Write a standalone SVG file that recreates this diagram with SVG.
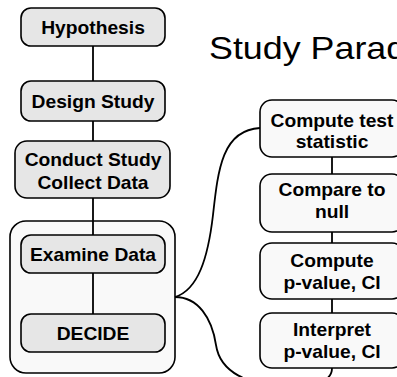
<svg xmlns="http://www.w3.org/2000/svg" width="397" height="377" viewBox="0 0 397 377">
<style>
.box{fill:#e6e6e6;stroke:#000;stroke-width:1.6}
.rbox{fill:#f9f9f9;stroke:#000;stroke-width:1.6}
.cont{fill:#f9f9f9;stroke:#000;stroke-width:1.6}
.lbl{font-family:"Liberation Sans",Arial,sans-serif;font-weight:bold;font-size:17.5px;text-anchor:middle;fill:#000}
.title{font-family:"Liberation Sans",Arial,sans-serif;font-size:32px;fill:#000}
.conn{fill:none;stroke:#000;stroke-width:1.8}
</style>
<rect width="397" height="377" fill="#fff"/>
<text class="title" transform="matrix(1.12 0 0 1 209 58.5)">Study Paradigm</text>
<g id="container">
<rect class="cont" x="10" y="221" width="165" height="152" rx="16"/>
</g>
<g id="connectors">
<line class="conn" x1="93" y1="46" x2="93" y2="81"/>
<line class="conn" x1="93" y1="121" x2="93" y2="141"/>
<line class="conn" x1="93" y1="198" x2="93" y2="235"/>
<line class="conn" x1="93" y1="273" x2="93" y2="314"/>
<line class="conn" x1="332" y1="157" x2="332" y2="174"/>
<line class="conn" x1="332" y1="232" x2="332" y2="243"/>
<line class="conn" x1="332" y1="299" x2="332" y2="313"/>
<path class="conn" d="M175,297 C198,290 208,258 213,215 C218,170 222,130 260,128"/>
<path class="conn" d="M175,297 C198,297 212,318 216,345 C220,372 248,386 288,386 C320,386 332,380 332,368"/>
</g>
<g id="hypothesis">
<rect class="box" x="21" y="8" width="144" height="38" rx="10"/>
<text class="lbl" transform="matrix(1.1 0 0 1 93 34)">Hypothesis</text>
</g>
<g id="design">
<rect class="box" x="21" y="81" width="144" height="40" rx="10"/>
<text class="lbl" transform="matrix(1.1 0 0 1 93 107.5)">Design Study</text>
</g>
<g id="conduct">
<rect class="box" x="15" y="141" width="155" height="57" rx="12"/>
<text class="lbl" transform="matrix(1.1 0 0 1 93 166)">Conduct Study</text>
<text class="lbl" transform="matrix(1.1 0 0 1 93 189)">Collect Data</text>
</g>
<g id="examine">
<rect class="box" x="21" y="235" width="144" height="38" rx="10"/>
<text class="lbl" transform="matrix(1.1 0 0 1 93 260.5)">Examine Data</text>
</g>
<g id="decide">
<rect class="box" x="21" y="314" width="144" height="38" rx="10"/>
<text class="lbl" transform="matrix(1.1 0 0 1 93 339.5)">DECIDE</text>
</g>
<g id="compute-test">
<rect class="rbox" x="260" y="100" width="144" height="57" rx="12"/>
<text class="lbl" transform="matrix(1.1 0 0 1 332 127)">Compute test</text>
<text class="lbl" transform="matrix(1.1 0 0 1 332 148)">statistic</text>
</g>
<g id="compare">
<rect class="rbox" x="260" y="174" width="144" height="58" rx="12"/>
<text class="lbl" transform="matrix(1.1 0 0 1 332 196)">Compare to</text>
<text class="lbl" transform="matrix(1.1 0 0 1 332 218)">null</text>
</g>
<g id="compute-p">
<rect class="rbox" x="260" y="243" width="144" height="56" rx="12"/>
<text class="lbl" transform="matrix(1.1 0 0 1 332 267)">Compute</text>
<text class="lbl" transform="matrix(1.1 0 0 1 332 289)">p-value, CI</text>
</g>
<g id="interpret">
<rect class="rbox" x="260" y="313" width="144" height="55" rx="12"/>
<text class="lbl" transform="matrix(1.1 0 0 1 332 336)">Interpret</text>
<text class="lbl" transform="matrix(1.1 0 0 1 332 358)">p-value, CI</text>
</g>
</svg>
